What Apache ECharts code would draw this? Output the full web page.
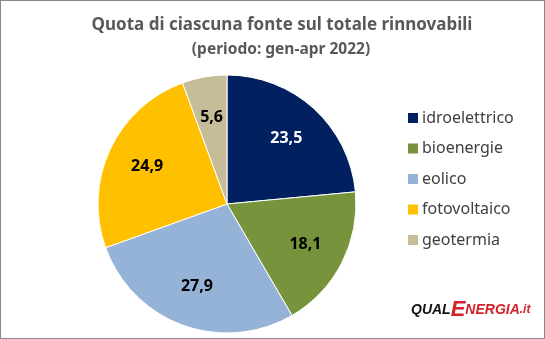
<!DOCTYPE html>
<html>
<head>
<meta charset="utf-8">
<script src="https://cdn.jsdelivr.net/npm/echarts@6/dist/echarts.min.js"></script>
<style>
  html, body { margin: 0; padding: 0; background: #fff; }
  #chart { width: 545px; height: 339px; box-sizing: border-box; border: 1px solid #8a8a8a; }
</style>
</head>
<body>
<div id="chart"></div>
<script>
// Quota percentuale di ciascuna fonte rinnovabile (gen-apr 2022)
const categories = ['idroelettrico', 'bioenergie', 'eolico', 'fotovoltaico', 'geotermia'];
const shares = [23.5, 18.1, 27.9, 24.9, 5.6];
const colors = ['#002060', '#77933C', '#95B3D7', '#FFC000', '#C4BD97'];
const labelColors = ['#ffffff', '#000000', '#000000', '#000000', '#000000'];

const fmt = v => v.toFixed(1).replace('.', ',');

const chart = echarts.init(document.getElementById('chart'), null, { renderer: 'canvas' });

const center = [226, 203];
const outer = 129;

chart.setOption({
  animation: false,
  color: colors,
  title: [
    {
      text: 'Quota di ciascuna fonte sul totale rinnovabili',
      left: 276, top: 11, textAlign: 'center',
      textStyle: { fontFamily: 'Noto Sans', fontWeight: 'bold', fontSize: 17, color: '#595959' }
    },
    {
      text: '(periodo: gen-apr 2022)',
      left: 275, top: 36, textAlign: 'center',
      textStyle: { fontFamily: 'Noto Sans', fontWeight: 'bold', fontSize: 15.5, color: '#595959' }
    }
  ],
  legend: {
    orient: 'vertical',
    left: 400, top: 104,
    itemWidth: 12, itemHeight: 12,
    itemGap: 14.5,
    icon: 'rect',
    data: categories,
    textStyle: { fontFamily: 'Noto Sans', fontSize: 16, color: '#404040', padding: [0, 0, 0, -2] }
  },
  graphic: [
    {
      type: 'text',
      left: 410, top: 298,
      style: {
        rich: {
          q: { fontFamily: 'Liberation Sans', fontStyle: 'italic', fontWeight: 'bold', fontSize: 14, fill: '#111' },
          e: { fontFamily: 'Liberation Sans', fontStyle: 'italic', fontWeight: 'bold', fontSize: 22, fill: '#D2232A' },
          n: { fontFamily: 'Liberation Sans', fontStyle: 'italic', fontWeight: 'bold', fontSize: 14, fill: '#D2232A' },
          t: { fontFamily: 'Liberation Sans', fontStyle: 'italic', fontWeight: 'bold', fontSize: 12, fill: '#D2232A' }
        },
        text: '{q|QUAL}{e|E}{n|NERGIA}{t|.it}'
      }
    }
  ],
  series: [
    {
      type: 'pie',
      center: center,
      radius: [0, outer],
      startAngle: 90,
      clockwise: true,
      label: { show: false },
      labelLine: { show: false },
      emphasis: { disabled: true },
      itemStyle: { borderColor: '#ffffff', borderWidth: 1 },
      data: categories.map((name, i) => ({ name, value: shares[i] }))
    },
    {
      // transparent ring used only to place the value labels
      type: 'pie',
      center: center,
      radius: [outer * 0.32, outer],
      startAngle: 90,
      clockwise: true,
      silent: true,
      legendHoverLink: false,
      emphasis: { disabled: true },
      itemStyle: { color: 'rgba(0,0,0,0)', borderWidth: 0 },
      labelLine: { show: false },
      label: {
        show: true,
        position: 'inside',
        fontFamily: 'Noto Sans',
        fontWeight: 'bold',
        fontSize: 16
      },
      data: categories.map((name, i) => ({
        name: name + '_lbl',
        value: shares[i],
        label: { color: labelColors[i], formatter: fmt(shares[i]) }
      }))
    }
  ]
});
</script>
</body>
</html>
